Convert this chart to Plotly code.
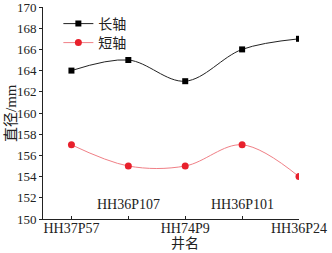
import plotly.graph_objects as go

wells = ["HH37P57", "HH36P107", "HH74P9", "HH36P101", "HH36P24"]
long_axis = [164, 165, 163, 166, 167]
short_axis = [157, 155, 155, 157, 154]
y_ticks = list(range(150, 171, 2))

FONT = "Liberation Serif, Noto Sans CJK SC, serif"
xs = list(range(len(wells)))

fig = go.Figure()
fig.add_trace(go.Scatter(
    x=xs, y=long_axis, name="长轴", mode="lines+markers", legend="legend",
    line=dict(color="#222222", width=1, shape="spline", smoothing=1),
    marker=dict(symbol="square", size=6, color="black"),
))
fig.add_trace(go.Scatter(
    x=xs, y=short_axis, name="短轴", mode="lines+markers", legend="legend2",
    line=dict(color="#f07f86", width=1, shape="spline", smoothing=1),
    marker=dict(symbol="circle", size=7, color="#e8202c"),
))

ticktext = [w if i % 2 == 0 else "" for i, w in enumerate(wells)]
for i, w in enumerate(wells):
    if i % 2 == 1:
        fig.add_annotation(x=i, y=0, xref="x", yref="paper", text=w,
                           showarrow=False, yanchor="bottom", yshift=5,
                           font=dict(family=FONT, size=14, color="#222"))

fig.add_annotation(x=2, y=0, xref="x", yref="paper",
                   text="井名", showarrow=False, yanchor="middle",
                   xanchor="center", yshift=-24,
                   font=dict(family=FONT, size=14, color="#222"))
fig.add_annotation(x=0, y=0.5, xref="paper", yref="paper",
                   text="直径/mm", showarrow=False, textangle=-90,
                   xanchor="center", yanchor="middle", xshift=-32,
                   font=dict(family=FONT, size=15, color="#222"))

leg = dict(xanchor="left", yanchor="middle", bgcolor="rgba(0,0,0,0)",
           font=dict(size=14), tracegroupgap=0)

fig.update_layout(
    width=332, height=253,
    margin=dict(l=43, r=33, t=7, b=34, autoexpand=False),
    paper_bgcolor="white", plot_bgcolor="white",
    font=dict(family=FONT, size=14, color="#222"),
    showlegend=True,
    legend=dict(x=0.06, y=(219 - 24) / 212, **leg),
    legend2=dict(x=0.06, y=(219 - 43) / 212, **leg),
    xaxis=dict(range=[-0.5, 4], tickvals=xs, ticktext=ticktext,
               showline=True, linecolor="#222", linewidth=1,
               ticks="inside", ticklen=3, tickcolor="#222",
               ticklabelstandoff=-4, ticklabeloverflow="allow",
               showgrid=False, zeroline=False, automargin=False),
    yaxis=dict(range=[150, 170], tickvals=y_ticks,
               showline=True, linecolor="#222", linewidth=1,
               ticks="outside", ticklen=3, tickcolor="#222",
               tickfont=dict(size=13),
               ticklabelstandoff=0, ticklabeloverflow="allow",
               showgrid=False, zeroline=False, automargin=False),
)

fig.write_html("out.html", config={"displayModeBar": False},
               post_script="document.body.style.margin='0';")
